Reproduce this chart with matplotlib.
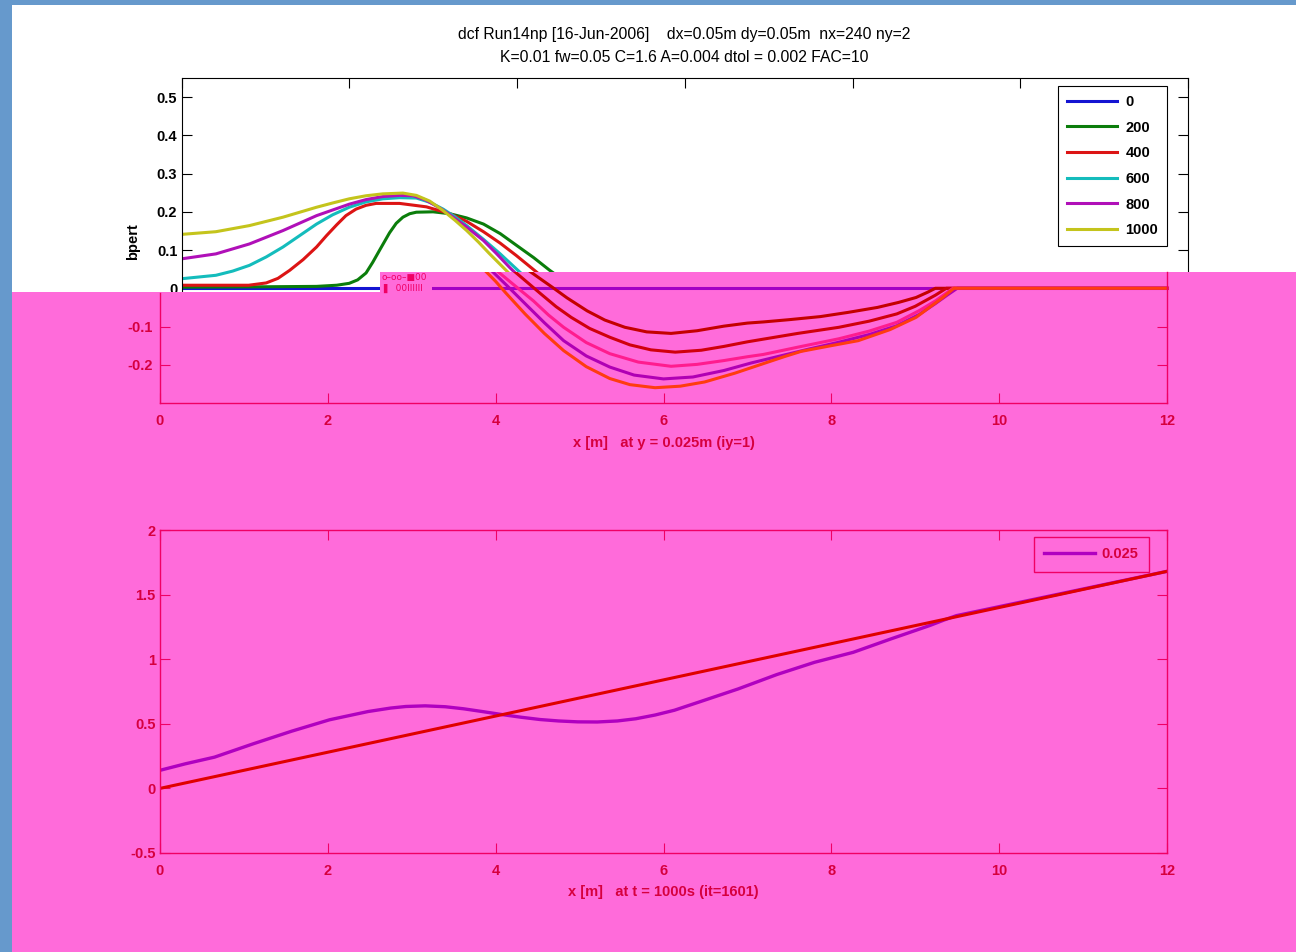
import numpy as np
import matplotlib.pyplot as plt
from matplotlib.patches import Polygon, Rectangle

# bpert(x) at y = 0.025 m for each output time [s]
times = [0, 200, 400, 600, 800, 1000]
x_t0 = [0, 12]
b_t0 = [0, 0]
x_t200 = [0, 1.0, 1.61, 1.85, 2.0, 2.1, 2.2, 2.28, 2.36, 2.48, 2.56, 2.64, 2.72, 2.8, 3.0, 3.2, 3.4,
          3.6, 3.8, 3.99, 4.2, 4.39, 4.55, 4.68, 4.85, 5.09, 5.3, 5.54, 5.8, 6.09, 6.4, 6.72, 7.0,
          7.19, 7.5, 7.87, 8.2, 8.55, 8.8, 9.01, 9.15, 9.24, 12]
b_t200 = [0.003, 0.004, 0.005, 0.008, 0.013, 0.022, 0.04, 0.068, 0.099, 0.145, 0.17, 0.186, 0.195,
          0.199, 0.2, 0.195, 0.184, 0.168, 0.143, 0.113, 0.08, 0.047, 0.022, 0.002, -0.025, -0.059,
          -0.083, -0.102, -0.114, -0.118, -0.111, -0.099, -0.091, -0.088, -0.082, -0.074, -0.063,
          -0.05, -0.037, -0.024, -0.01, 0.0, 0.0]
x_t400 = [0, 0.8, 1.01, 1.15, 1.29, 1.45, 1.61, 1.73, 1.85, 1.96, 2.08, 2.2, 2.32, 2.6, 2.92, 3.2,
          3.4, 3.6, 3.8, 3.99, 4.23, 4.54, 4.72, 4.9, 5.12, 5.36, 5.6, 5.85, 6.14, 6.45, 6.72, 7.0,
          7.19, 7.6, 8.09, 8.45, 8.78, 9.0, 9.24, 9.37, 12]
b_t400 = [0.008, 0.008, 0.014, 0.026, 0.047, 0.075, 0.108, 0.138, 0.166, 0.19, 0.207, 0.217, 0.222,
          0.222, 0.213, 0.195, 0.175, 0.148, 0.118, 0.086, 0.043, -0.015, -0.048, -0.076, -0.105,
          -0.128, -0.148, -0.161, -0.167, -0.162, -0.152, -0.14, -0.133, -0.118, -0.102, -0.086,
          -0.067, -0.047, -0.018, 0.0, 0.0]
x_t600 = [0, 0.41, 0.61, 0.81, 1.01, 1.21, 1.41, 1.61, 1.8, 2.0, 2.2, 2.4, 2.6, 2.8, 2.96, 3.12,
          3.26, 3.4, 3.6, 3.8, 4.03, 4.25, 4.45, 4.63, 4.81, 5.08, 5.36, 5.7, 6.09, 6.4, 6.72, 7.0,
          7.19, 7.6, 8.09, 8.45, 8.78, 9.05, 9.24, 9.45, 12]
b_t600 = [0.025, 0.034, 0.045, 0.06, 0.082, 0.108, 0.138, 0.168, 0.192, 0.212, 0.226, 0.234, 0.237,
          0.236, 0.225, 0.207, 0.187, 0.164, 0.128, 0.09, 0.043, 0.003, -0.033, -0.07, -0.102,
          -0.142, -0.171, -0.193, -0.204, -0.199, -0.189, -0.179, -0.173, -0.154, -0.132, -0.112,
          -0.089, -0.058, -0.033, 0.0, 0.0]
x_t800 = [0, 0.41, 0.81, 1.21, 1.61, 2.0, 2.2, 2.4, 2.6, 2.76, 2.9, 3.0, 3.1, 3.2, 3.4, 3.6, 3.75,
          3.91, 4.13, 4.35, 4.58, 4.81, 5.08, 5.36, 5.65, 6.0, 6.35, 6.72, 7.05, 7.41, 7.75, 8.09,
          8.45, 8.78, 9.05, 9.24, 9.38, 9.5, 12]
b_t800 = [0.077, 0.09, 0.116, 0.151, 0.19, 0.22, 0.232, 0.24, 0.243, 0.242, 0.232, 0.22, 0.207,
          0.192, 0.16, 0.125, 0.092, 0.055, 0.008, -0.04, -0.09, -0.137, -0.177, -0.206, -0.227,
          -0.237, -0.232, -0.215, -0.195, -0.176, -0.158, -0.141, -0.121, -0.098, -0.068, -0.04,
          -0.018, 0.0, 0.0]
x_t1000 = [0, 0.41, 0.81, 1.21, 1.61, 1.8, 2.0, 2.2, 2.4, 2.64, 2.8, 2.96, 3.12, 3.26, 3.4, 3.54,
           3.67, 3.87, 4.0, 4.12, 4.35, 4.58, 4.81, 5.08, 5.36, 5.6, 5.9, 6.2, 6.49, 6.85, 7.19,
           7.45, 7.64, 8.0, 8.32, 8.7, 9.01, 9.2, 9.33, 9.46, 12]
b_t1000 = [0.141, 0.148, 0.164, 0.186, 0.212, 0.223, 0.234, 0.242, 0.247, 0.249, 0.243, 0.228,
           0.203, 0.178, 0.151, 0.121, 0.091, 0.047, 0.018, -0.012, -0.067, -0.118, -0.163, -0.205,
           -0.236, -0.252, -0.26, -0.256, -0.245, -0.222, -0.197, -0.178, -0.165, -0.15, -0.137,
           -0.108, -0.076, -0.045, -0.024, 0.0, 0.0]
xs = [x_t0, x_t200, x_t400, x_t600, x_t800, x_t1000]
bs = [b_t0, b_t200, b_t400, b_t600, b_t800, b_t1000]

# bed elevation at t = 1000 s and the initial slope
x_bed = [0, 0.3, 0.65, 1.11, 1.57, 2.02, 2.48, 2.75, 2.93, 3.16, 3.4, 3.62, 3.85, 4.07, 4.3, 4.53,
         4.75, 4.98, 5.21, 5.45, 5.67, 5.9, 6.13, 6.44, 6.89, 7.35, 7.8, 8.26, 8.71, 9.17, 9.35,
         9.49, 12]
z_bed = [0.14, 0.19, 0.242, 0.345, 0.443, 0.531, 0.595, 0.622, 0.634, 0.639, 0.632, 0.616, 0.594,
         0.572, 0.551, 0.533, 0.522, 0.515, 0.514, 0.522, 0.539, 0.568, 0.605, 0.672, 0.77, 0.881,
         0.976, 1.053, 1.157, 1.26, 1.305, 1.337, 1.68]
x_init = [0, 12]
z_init = [0, 1.68]

xticks = [0, 2, 4, 6, 8, 10, 12]
yticks_top = [0, 0.1, 0.2, 0.3, 0.4, 0.5]
yticks_neg = [-0.2, -0.1]
yticks_bed = [-0.5, 0, 0.5, 1, 1.5, 2]

line_cols = ['#1414d2', '#0b7d0b', '#dc1414', '#14bcbc', '#b010b8', '#c4c41c']
pink_cols = ['#a400c4', '#c40000', '#d0000c', '#ff1c8e', '#b000b4', '#ff3c10']
pink_bg = '#ff6bda'
crimson = '#f00064'
txt_pink = '#d6003e'
blue = '#6699cc'

W, H = 1296, 952
plt.rcParams['font.family'] = ['Liberation Sans', 'DejaVu Sans']
fig = plt.figure(figsize=(W / 100, H / 100), dpi=100, facecolor='white')

def box(l, t, r, b):
    return [l / W, 1 - b / H, (r - l) / W, (b - t) / H]

# --- upper panel ---
ax1 = fig.add_axes(box(181.5, 78, 1188, 403), zorder=0)
for i in range(len(times)):
    ax1.plot(xs[i], bs[i], '-', color=line_cols[i], lw=2.2, label=str(times[i]))
ax1.set_xlim(0, 12)
ax1.set_ylim(-0.3, 0.55)
ax1.set_xticks(xticks)
ax1.set_yticks(yticks_top)
ax1.set_yticklabels(['0', '0.1', '0.2', '0.3', '0.4', '0.5'])
ax1.tick_params(direction='in', length=7, width=0.8, top=True, right=True,
                labelbottom=False, pad=3, labelsize=10.5)
for t in ax1.get_yticklabels():
    t.set_fontweight('bold')
for s in ax1.spines.values():
    s.set_linewidth(0.8)
ax1.set_ylabel('bpert', fontsize=10.5, fontweight='bold')
ax1.yaxis.set_label_coords(-0.041, 0.495)
leg = ax1.legend(loc='upper right', bbox_to_anchor=(0.979, 0.975), borderaxespad=0,
                 fancybox=False, framealpha=1, edgecolor='black', handlelength=3.4,
                 handletextpad=0.6, labelspacing=0.8, borderpad=0.6,
                 prop={'size': 10.5, 'weight': 'bold'})
leg.get_frame().set_linewidth(0.8)

fig.text(684.5 / W, 1 - 35 / H, 'dcf Run14np [16-Jun-2006]    dx=0.05m dy=0.05m  nx=240 ny=2',
         ha='center', va='center', fontsize=11.3)
fig.text(684.5 / W, 1 - 57 / H, 'K=0.01 fw=0.05 C=1.6 A=0.004 dtol = 0.002 FAC=10',
         ha='center', va='center', fontsize=11.3)

# pink lower part of the figure (its top edge steps up at x = 380 px)
pink_edge = [(0, 292), (380, 292), (380, 272), (W, 272)]
pink = Polygon([(px / W, 1 - py / H) for px, py in pink_edge] + [(1, 0), (0, 0)],
               closed=True, transform=fig.transFigure,
               facecolor=pink_bg, edgecolor='none', zorder=1)
fig.add_artist(pink)

ax1b = fig.add_axes(box(160, 78, 1167, 403), zorder=2)
ax1b.set_facecolor('none')
for i in range(len(times)):
    ax1b.plot(xs[i], bs[i], '-', color=pink_cols[i], lw=2.2, clip_path=pink)
ax1b.set_xlim(0, 12)
ax1b.set_ylim(-0.3, 0.55)
ax1b.set_xticks(xticks)
ax1b.set_yticks(yticks_neg)
ax1b.set_yticklabels(['-0.2', '-0.1'])
ax1b.tick_params(direction='in', length=7, width=0.8, colors=crimson, labelcolor=txt_pink,
                 right=True, labelsize=10.5)
ax1b.tick_params(axis='x', pad=8)
ax1b.tick_params(axis='y', pad=5)
for t in ax1b.get_xticklabels() + ax1b.get_yticklabels():
    t.set_fontweight('bold')
ax1b.spines['top'].set_visible(False)
for s in ax1b.spines.values():
    s.set_color(crimson)
    s.set_linewidth(1.0)
# side spines only show below the white band
ax1b.spines['left'].set_bounds(-0.3, -0.011)
ax1b.spines['right'].set_bounds(-0.3, 0.042)
ax1b.set_xlabel('x [m]   at y = 0.025m (iy=1)', fontsize=10.5, fontweight='bold', color=txt_pink)
ax1b.xaxis.set_label_coords(0.5, -0.1)

# small garbled strip at the edge of the pink area
fig.add_artist(Rectangle((380 / W, 1 - 297 / H), 52 / W, 25 / H, transform=fig.transFigure,
                         facecolor=pink_bg, edgecolor='none', zorder=3))
fig.text(382 / W, 1 - 277 / H, 'o\u2013oo\u2013\u25a000', fontsize=6.5, color=crimson,
         va='center', zorder=4, family='DejaVu Sans')
fig.text(383 / W, 1 - 288 / H, '\u258c  00IIIIII', fontsize=6.5, color=crimson,
         va='center', zorder=4, family='DejaVu Sans')

# --- lower panel: bed elevation ---
ax2 = fig.add_axes(box(160, 530, 1167, 853), zorder=2)
ax2.set_facecolor('none')
ax2.plot(x_bed, z_bed, '-', color='#b000c0', lw=2.4, label='0.025')
ax2.plot(x_init, z_init, '-', color='#e00000', lw=2.2)
ax2.set_xlim(0, 12)
ax2.set_ylim(-0.5, 2)
ax2.set_xticks(xticks)
ax2.set_yticks(yticks_bed)
ax2.set_yticklabels(['-0.5', '0', '0.5', '1', '1.5', '2'])
ax2.tick_params(direction='in', length=7, width=0.8, colors=crimson, labelcolor=txt_pink,
                top=True, right=True, labelsize=10.5)
ax2.tick_params(axis='x', pad=8)
ax2.tick_params(axis='y', pad=3)
for t in ax2.get_xticklabels() + ax2.get_yticklabels():
    t.set_fontweight('bold')
for s in ax2.spines.values():
    s.set_color(crimson)
    s.set_linewidth(1.0)
ax2.set_xlabel('x [m]   at t = 1000s (it=1601)', fontsize=10.5, fontweight='bold', color=txt_pink)
ax2.xaxis.set_label_coords(0.5, -0.099)
leg2 = ax2.legend(loc='upper right', bbox_to_anchor=(0.982, 0.978), borderaxespad=0,
                  fancybox=False, framealpha=1, facecolor=pink_bg, edgecolor=crimson,
                  handlelength=3.5, handletextpad=0.45, borderpad=0.7, labelcolor=txt_pink,
                  prop={'size': 10.5, 'weight': 'bold'})
leg2.get_frame().set_linewidth(1.0)

# window border
fig.add_artist(Rectangle((0, 0), 12 / W, 1, transform=fig.transFigure,
                         facecolor=blue, edgecolor='none', zorder=5))
fig.add_artist(Rectangle((0, 1 - 5 / H), 1, 5 / H, transform=fig.transFigure,
                         facecolor=blue, edgecolor='none', zorder=5))

fig.savefig('out.png', dpi=100)
